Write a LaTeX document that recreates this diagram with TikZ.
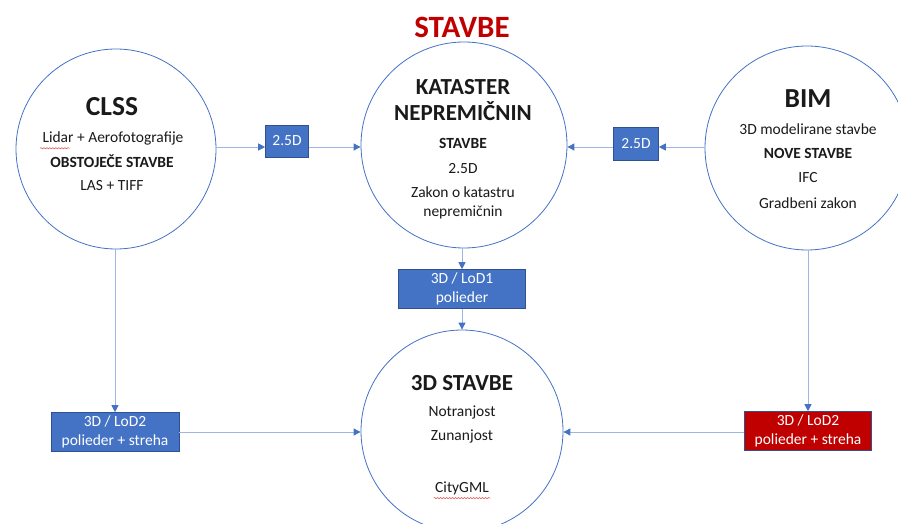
\documentclass[tikz,border=0pt]{standalone}
\usepackage{fontspec}
\setmainfont{Carlito}
\usetikzlibrary{arrows.meta,decorations.pathmorphing}
\definecolor{officeblue}{HTML}{4472C4}
\definecolor{linkblue}{HTML}{9DB7E4}
\definecolor{boxedge}{HTML}{2F528F}
\definecolor{deepred}{HTML}{C00000}
\definecolor{ink}{HTML}{1A1A1A}
\definecolor{spell}{HTML}{E04040}

\begin{document}
\begin{tikzpicture}[x=1pt,y=-1pt,
  hub/.style={circle, draw=officeblue, line width=0.8pt, fill=white, inner sep=0pt},
  link/.style={draw=linkblue, line width=0.9pt,
    -{Triangle[length=7pt,width=7pt,color=officeblue]}},
  tag/.style={draw=boxedge, line width=0.6pt, fill=officeblue, text=white,
    inner sep=0pt, font=\fontsize{15.5}{18.5}\selectfont, align=center},
  redtag/.style={tag, fill=deepred},
  big/.style={text=ink, font=\bfseries\fontsize{27.5}{30}\selectfont},
  mid/.style={text=ink, font=\bfseries\fontsize{23}{26}\selectfont, align=center},
  small/.style={text=ink, font=\fontsize{15.5}{18}\selectfont},
  smallb/.style={small, font=\bfseries\fontsize{15.5}{18}\selectfont},
  squiggle/.style={draw=spell, line width=0.5pt,
    decorate, decoration={snake, amplitude=0.6pt, segment length=3pt}}
]
\useasboundingbox (0,0) rectangle (898,524);

% heading
\node[text=deepred, font=\bfseries\fontsize{31}{33}\selectfont] (head) at (462,27) {STAVBE};

% the four circles
\node[hub, minimum size=200pt] (clss) at (116,149) {};
\node[hub, minimum size=206pt] (kat)  at (464,145) {};
\node[hub, minimum size=204pt] (bim)  at (807,148) {};
\node[hub, minimum size=202pt] (tri)  at (462,431) {};

% CLSS
\node[big]    (clssT) at (112,107) {CLSS};
\node[small]  (clss1) at (113,138) {Lidar + Aerofotografije};
\node[smallb] (clss2) at (112,161) {OBSTOJEČE STAVBE};
\node[small]  (clss3) at (112,186) {LAS + TIFF};

% Kataster
\node[mid]    (katT) at (463,100) {KATASTER\\NEPREMIČNIN};
\node[smallb] (kat1) at (463,143) {STAVBE};
\node[small]  (kat2) at (463,169) {2.5D};
\node[small, align=center, font=\fontsize{15.5}{19}\selectfont] (kat3) at (463,203) {Zakon o katastru\\nepremičnin};

% BIM
\node[big]    (bimT) at (808,99)  {BIM};
\node[small]  (bim1) at (808,129) {3D modelirane stavbe};
\node[smallb] (bim2) at (808,153) {NOVE STAVBE};
\node[small]  (bim3) at (808,178) {IFC};
\node[small]  (bim4) at (808,203) {Gradbeni zakon};

% 3D stavbe
\node[mid]   (triT) at (462,383) {3D STAVBE};
\node[small] (tri1) at (462,412) {Notranjost};
\node[small] (tri2) at (462,436) {Zunanjost};
\node[small] (tri3) at (462,488) {CityGML};

% spelling marks
\draw[squiggle] ([xshift=1pt,yshift=0pt]clss1.south west) -- ++(30,0);
\draw[squiggle] ([xshift=2pt,yshift=0pt]tri3.south west) -- ([xshift=-2pt,yshift=0pt]tri3.south east);

% data boxes
\node[tag, minimum width=43pt, minimum height=32pt] (b25l) at (287,141) {2.5D};
\node[tag, minimum width=45pt, minimum height=33pt] (b25r) at (636,144) {2.5D};
\node[tag, minimum width=127pt, minimum height=39pt] (lod1) at (462,289) {3D / LoD1\\polieder};
\node[tag, minimum width=128pt, minimum height=39pt] (lod2l) at (115,432) {3D / LoD2\\polieder + streha};
\node[redtag, minimum width=127pt, minimum height=39pt] (lod2r) at (808,431) {3D / LoD2\\polieder + streha};

% connectors
\coordinate (row) at (0,147);
\coordinate (row3) at (0,432);
\draw[link] (clss.east |- row) -- (b25l.west |- row);
\draw[link] (b25l.east |- row) -- (kat.west |- row);
\draw[link] (bim.west |- row) -- (b25r.east |- row);
\draw[link] (b25r.west |- row) -- (kat.east |- row);
\draw[link] (lod1.north |- kat.south) -- (lod1.north);
\draw[link] (lod1.south) -- (lod1.south |- tri.north);
\draw[link] (lod2l.north |- clss.south) -- (lod2l.north);
\draw[link] (lod2r.north |- bim.south) -- (lod2r.north);
\draw[link] (lod2l.east |- row3) -- (tri.west |- row3);
\draw[link] (lod2r.west |- row3) -- (tri.east |- row3);
\end{tikzpicture}
\end{document}
